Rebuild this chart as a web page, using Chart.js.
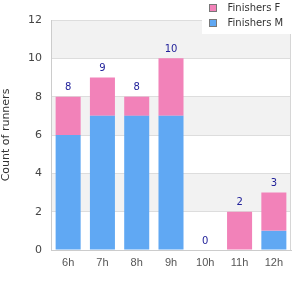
<!DOCTYPE html>
<html><head><meta charset="utf-8">
<script src="https://cdn.jsdelivr.net/npm/chart.js@4/dist/chart.umd.min.js"></script>
<style>html,body{margin:0;padding:0;background:#fff;}canvas{display:block;}</style>
</head><body>
<canvas id="c" width="300" height="300"></canvas>
<script>
const categories = ['6h','7h','8h','9h','10h','11h','12h'];
const finishersM = [6,7,7,7,0,0,1];
const finishersF = [2,2,1,3,0,2,2];
const yTicks = [0,2,4,6,8,10,12];
const seriesNames = ['Finishers F','Finishers M'];
const colF = 'rgb(242,130,185)';
const colM = 'rgb(96,168,243)';

const bandPlugin = {
  id:'bands',
  beforeDraw(chart){
    const {ctx, chartArea:a, scales:{y}} = chart;
    ctx.save();
    ctx.fillStyle = '#f2f2f2';
    for (let v = 2; v < 12; v += 4) {
      const t = y.getPixelForValue(v+2), b = y.getPixelForValue(v);
      ctx.fillRect(a.left, t, a.right-a.left, b-t);
    }
    ctx.restore();
  }
};
const overlayPlugin = {
  id:'overlay',
  afterDraw(chart){
    const {ctx, chartArea:a, scales:{x,y}} = chart;
    ctx.save();
    // right border
    ctx.strokeStyle = '#d6d6d6'; ctx.lineWidth = 1;
    ctx.beginPath(); ctx.moveTo(Math.round(a.right)-0.5, a.top); ctx.lineTo(Math.round(a.right)-0.5, a.bottom); ctx.stroke();
    // value labels
    ctx.fillStyle = '#22229a';
    ctx.font = '10px "DejaVu Sans"';
    ctx.textAlign = 'center'; ctx.textBaseline = 'middle';
    categories.forEach((c,i)=>{
      const tot = finishersM[i] + finishersF[i];
      ctx.fillText(String(tot), x.getPixelForValue(i), y.getPixelForValue(tot) - 9);
    });
    // legend
    ctx.fillStyle = '#fff';
    ctx.fillRect(202, 0, 98, 34);
    const cols = [colF, colM];
    seriesNames.forEach((n,i)=>{
      const yy = 5 + i*15;
      ctx.fillStyle = cols[i];
      ctx.fillRect(210, yy, 6, 6);
      ctx.strokeStyle = '#777';
      ctx.strokeRect(209.5, yy-0.5, 7, 7);
      ctx.fillStyle = '#333';
      ctx.font = '10px "DejaVu Sans"';
      ctx.textAlign = 'left'; ctx.textBaseline = 'middle';
      ctx.fillText(n, 227.5, yy + 3.5);
    });
    ctx.restore();
  }
};

new Chart(document.getElementById('c'), {
  type:'bar',
  data:{
    labels:categories,
    datasets:[
      {label:seriesNames[1], data:finishersM, backgroundColor:colM, barPercentage:0.73, categoryPercentage:1},
      {label:seriesNames[0], data:finishersF, backgroundColor:colF, barPercentage:0.73, categoryPercentage:1}
    ]
  },
  options:{
    responsive:false, animation:false,
    layout:{padding:{top:20, right:9, left:0, bottom:0}},
    plugins:{legend:{display:false}, tooltip:{enabled:false}},
    scales:{
      x:{stacked:true,
        grid:{display:false, drawTicks:false},
        border:{color:'#ccc'},
        ticks:{color:'#555', font:{family:'"Liberation Sans"', size:11}, padding:6},
        afterFit(s){ s.height = 50; }
      },
      y:{stacked:true, min:0, max:12,
        afterBuildTicks(s){ s.ticks = yTicks.map(v=>({value:v})); },
        grid:{color:'#dddddd', drawTicks:false},
        border:{color:'#ccc'},
        ticks:{color:'#444', font:{family:'"DejaVu Sans"', size:11}, padding:9},
        title:{display:true, text:'Count of runners', color:'#333', font:{family:'"DejaVu Sans"', size:11}, padding:{top:0,bottom:0}},
        afterFit(s){ s.width = 51; }
      }
    }
  },
  plugins:[bandPlugin, overlayPlugin]
});
</script>
</body></html>
